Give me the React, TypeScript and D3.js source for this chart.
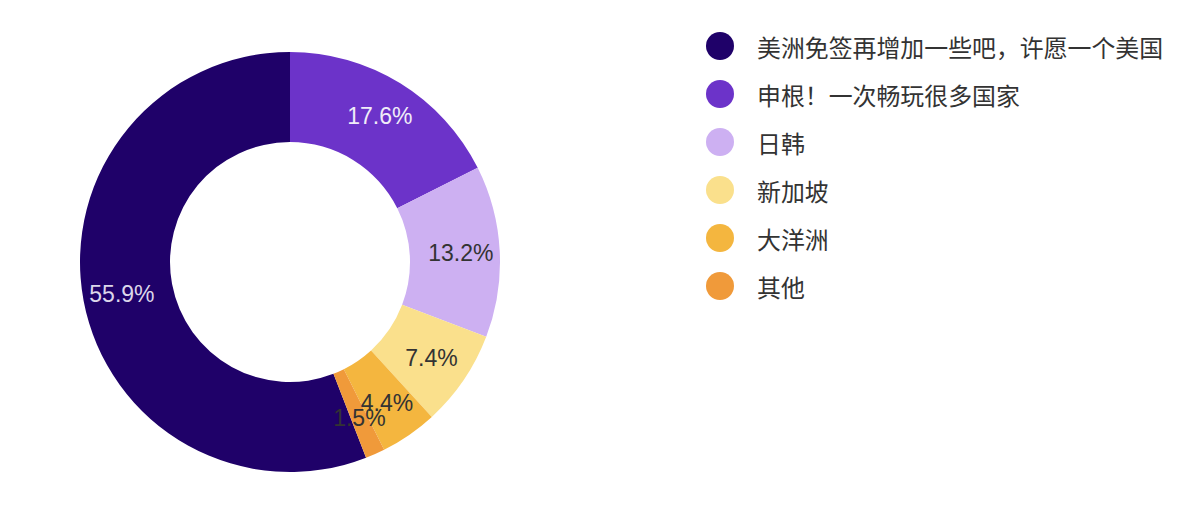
import React from "react";
import * as d3 from "d3";

const categories = ["美洲免签再增加一些吧，许愿一个美国", "申根！一次畅玩很多国家", "日韩", "新加坡", "大洋洲", "其他"];
const values = [55.9, 17.6, 13.2, 7.4, 4.4, 1.5];
const colors = ["#1F0169", "#6C33C9", "#CDB0F2", "#FAE08C", "#F4B63F", "#F09A3A"];
const labelColors = ["#DCD6EA", "#F0ECF8", "#333333", "#333333", "#333333", "#333333"];

export default function App() {
  const width = 1186;
  const height = 532;
  const cx = 290;
  const cy = 262;
  const outerR = 210;
  const innerR = 120;
  const labelR = 171;
  const total = d3.sum(values);
  const offset = -(values[0] / total) * Math.PI * 2;
  const pie = d3
    .pie<number>()
    .sort(null)
    .startAngle(offset)
    .endAngle(offset + Math.PI * 2)
    .value((d) => d);
  const arcs = pie(values);
  const arc = d3.arc<d3.PieArcDatum<number>>().innerRadius(innerR).outerRadius(outerR);
  const labelArc = d3.arc<d3.PieArcDatum<number>>().innerRadius(labelR).outerRadius(labelR);
  const font = "'Noto Sans CJK SC', 'Noto Sans', sans-serif";
  const labelFont = "'Liberation Sans', Arial, sans-serif";

  return (
    <svg width={width} height={height} style={{ position: "absolute", left: 0, top: 0 }}>
      <g transform={`translate(${cx},${cy})`}>
        {arcs.map((a, i) => (
          <path key={i} d={arc(a) || ""} fill={colors[i]} />
        ))}
        {arcs.map((a, i) => {
          const [x, y] = labelArc.centroid(a);
          return (
            <text
              key={"l" + i}
              x={x}
              y={y}
              textAnchor="middle"
              dominantBaseline="central"
              fontFamily={labelFont}
              fontSize={23}
              fill={labelColors[i]}
            >
              {values[i].toFixed(1)}%
            </text>
          );
        })}
      </g>
      <g>
        {categories.map((c, i) => (
          <g key={c} transform={`translate(720,${46 + i * 48})`}>
            <circle r={14} fill={colors[i]} />
            <text x={37} y={0} dominantBaseline="central" fontFamily={font} fontSize={23.9} fill="#333333">
              {c}
            </text>
          </g>
        ))}
      </g>
    </svg>
  );
}
